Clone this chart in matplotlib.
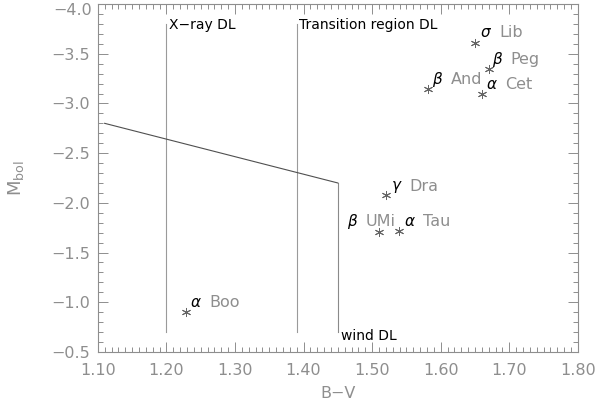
import matplotlib
matplotlib.use("Agg")
import matplotlib.pyplot as plt
from matplotlib.ticker import MultipleLocator, FuncFormatter
from matplotlib.transforms import offset_copy

# Data
star_greek = [r"$\sigma$", r"$\beta$", r"$\beta$", r"$\alpha$", r"$\gamma$", r"$\beta$", r"$\alpha$", r"$\alpha$"]
star_names = ["Lib", "Peg", "And", "Cet", "Dra", "UMi", "Tau", "Boo"]
bv = [1.65, 1.67, 1.581, 1.66, 1.52, 1.51, 1.539, 1.229]
mbol = [-3.61, -3.35, -3.15, -3.10, -2.08, -1.71, -1.72, -0.90]

# dividing lines
xray_x = [1.20, 1.20]
xray_y = [-3.80, -0.70]
trans_x = [1.39, 1.39]
trans_y = [-3.80, -0.70]
wind_x = [1.45, 1.45]
wind_y = [-2.20, -0.70]
diag_x = [1.11, 1.45]
diag_y = [-2.80, -2.20]

GRAY = "#8e8e8e"
MINUS = "\u2212"

fig = plt.figure(figsize=(6.0, 4.05), dpi=100)
ax = fig.add_axes([0.163, 0.131, 0.800, 0.859])

ax.plot(xray_x, xray_y, color="#9a9a9a", lw=0.8)
ax.plot(trans_x, trans_y, color="#9a9a9a", lw=0.8)
ax.plot(wind_x, wind_y, color="#8a8a8a", lw=0.8)
ax.plot(diag_x, diag_y, color="#505050", lw=0.8)

ax.plot(bv, mbol, linestyle="none", marker=(6, 2, 0), markersize=6.5,
        markeredgewidth=0.7, color="#666666")

# label offsets in pixels (greek symbol relative to marker)
lab_dx = [5, 3, 4, 4, 5, -32, 5, 4]
lab_dy = [10, 9, 9, 9, 8, 10, 9, 10]
px = 0.72
for g, n, x, y, dx, dy in zip(star_greek, star_names, bv, mbol, lab_dx, lab_dy):
    tg = offset_copy(ax.transData, fig=fig, x=dx * px, y=dy * px, units="points")
    ax.text(x, y, g, transform=tg, color="black", fontsize=11, ha="left", va="center")
    tn = offset_copy(ax.transData, fig=fig, x=(dx + 19) * px, y=dy * px, units="points")
    ax.text(x, y, n, transform=tn, color=GRAY, fontsize=11.5, ha="left", va="center")

ax.text(1.204, -3.79, "X" + MINUS + "ray DL", color="black", fontsize=10, ha="left", va="center")
ax.text(1.393, -3.79, "Transition region DL", color="black", fontsize=10, ha="left", va="center")
ax.text(1.454, -0.66, "wind DL", color="black", fontsize=10, ha="left", va="center")

ax.set_xlim(1.10, 1.80)
ax.set_ylim(-0.5, -4.0)
ax.xaxis.set_major_locator(MultipleLocator(0.10))
ax.xaxis.set_minor_locator(MultipleLocator(0.01))
ax.yaxis.set_major_locator(MultipleLocator(0.5))
ax.yaxis.set_minor_locator(MultipleLocator(0.1))
ax.xaxis.set_major_formatter(FuncFormatter(lambda v, p: "%.2f" % v))


def yfmt(v, p):
    if v < -3.95:
        return ""
    return ("%.1f" % v).replace("-", MINUS)


ax.yaxis.set_major_formatter(FuncFormatter(yfmt))

ax.tick_params(which="both", direction="in", top=True, right=True, color=GRAY,
               labelcolor=GRAY, labelsize=11.5, width=0.7)
ax.tick_params(axis="y", which="major", length=7.5, pad=5.5)
ax.tick_params(axis="x", which="major", length=7.5, pad=8)
ax.tick_params(which="minor", length=3.6)
for s in ax.spines.values():
    s.set_color(GRAY)
    s.set_linewidth(0.8)

# top y label (shifted down to stay inside the figure, as in the original)
ty = offset_copy(ax.transData, fig=fig, x=-5.5 * px, y=-6 * px, units="points")
ax.text(1.10, -4.0, MINUS + "4.0", transform=ty, color=GRAY, fontsize=11.5,
        ha="right", va="center", clip_on=False)

ax.set_xlabel("B" + MINUS + "V", color=GRAY, fontsize=11.5, labelpad=6)
ax.set_ylabel("M$_\\mathregular{bol}$", color=GRAY, fontsize=13, labelpad=18)

fig.savefig("out.png", dpi=100)
